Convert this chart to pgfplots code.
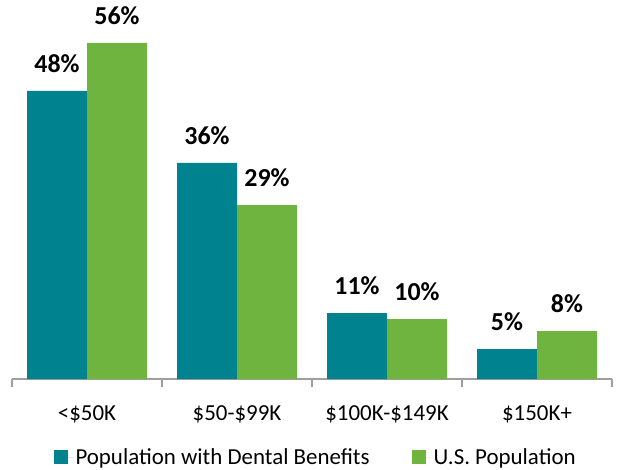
\documentclass[border=0pt]{standalone}
\usepackage{fontspec}
\setmainfont{Carlito}
\usepackage{pgfplots}
\pgfplotsset{compat=1.18}
\definecolor{teal1}{RGB}{0,131,143}
\definecolor{green1}{RGB}{110,180,62}
\begin{document}
\begin{tikzpicture}
\useasboundingbox (-12bp,-91bp) rectangle (606bp,379bp);
\begin{axis}[
  scale only axis, width=600bp, height=360bp,
  ymin=0, ymax=60, xmin=-0.5, xmax=3.5,
  axis y line=none, axis x line*=bottom,
  axis line style={draw=gray!75, line width=1.2bp, -},
  /pgf/number format/assume math mode=true,
  ybar=0pt, bar width=0.4,
  xtick={0,1,2,3},
  xticklabels={{<\$50K},{\$50-\$99K},{\$100K-\$149K},{\$150K+}},
  major x tick style={draw=none},
  major tick length=0pt,
  minor xtick={-0.5,0.5,1.5,2.5,3.5},
  minor tick length=8bp, xtick align=outside,
  minor x tick style={draw=gray!75, line width=1.2bp},
  xticklabel style={font=\fontsize{23}{26}\selectfont, anchor=base, yshift=-41bp},
  nodes near coords={\pgfmathprintnumber{\pgfplotspointmeta}\%},
  every node near coord/.append style={font=\bfseries\fontsize{26}{30}\selectfont, anchor=south, inner sep=0pt, yshift=18bp, text=black},
  legend style={at={(0.506,-0.217)}, anchor=center, draw=none, fill=none,
    legend columns=2, font=\fontsize{23}{26}\selectfont,
    /tikz/every even column/.append style={column sep=40bp}},
  legend image code/.code={\fill[#1] (0bp,-7bp) rectangle (14bp,7bp); \path (14bp,0bp) -- (20bp,0bp);},
  clip=false,
]
\addplot[fill=teal1, draw=none] coordinates {(0,48) (1,36) (2,11) (3,5)};
\addplot[fill=green1, draw=none] coordinates {(0,56) (1,29) (2,10) (3,8)};
\legend{Population with Dental Benefits, U.S. Population}
\end{axis}
\end{tikzpicture}
\end{document}
